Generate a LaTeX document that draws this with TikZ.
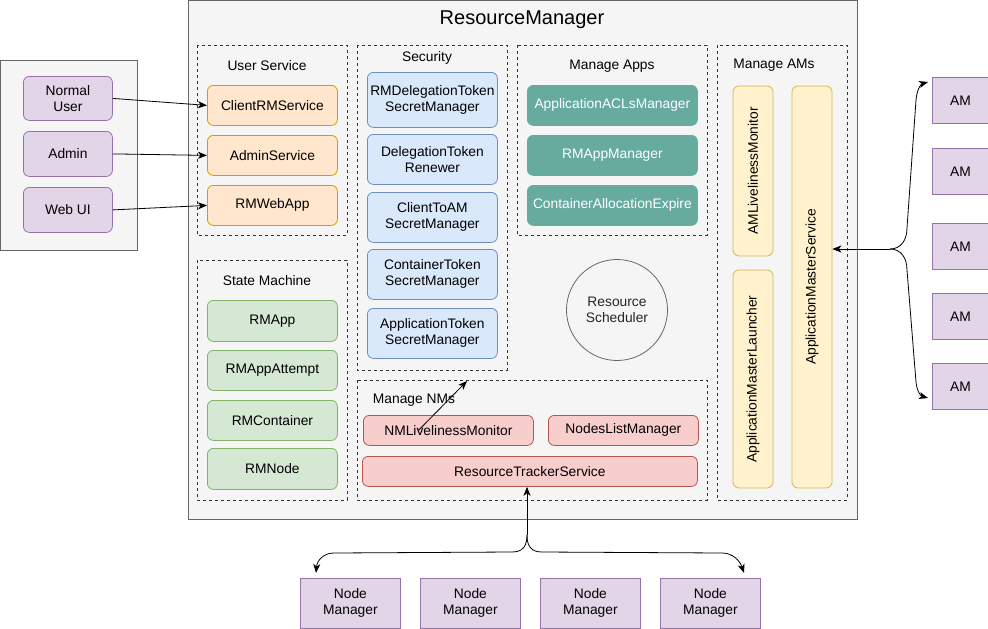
\documentclass[tikz,border=0pt]{standalone}
\usepackage{fontspec}
\setmainfont{Liberation Sans}
\usetikzlibrary{arrows.meta,calc}
\definecolor{grayfill}{HTML}{F5F5F5}
\definecolor{graystroke}{HTML}{666666}
\definecolor{purfill}{HTML}{E1D5E7}
\definecolor{purstroke}{HTML}{9673A6}
\definecolor{orfill}{HTML}{FFE6CC}
\definecolor{orstroke}{HTML}{D79B00}
\definecolor{blfill}{HTML}{DAE8FC}
\definecolor{blstroke}{HTML}{6C8EBF}
\definecolor{grfill}{HTML}{D5E8D4}
\definecolor{grstroke}{HTML}{82B366}
\definecolor{rdfill}{HTML}{F8CECC}
\definecolor{rdstroke}{HTML}{B85450}
\definecolor{yefill}{HTML}{FFF2CC}
\definecolor{yestroke}{HTML}{D6B656}
\definecolor{teal}{HTML}{67AB9F}
\definecolor{txt}{HTML}{000000}
\begin{document}
\begin{tikzpicture}[x=1pt,y=-1pt,
  every node/.style={font=\fontsize{13.8}{16}\selectfont, inner sep=0pt, align=center, text=txt},
  bx/.style={draw, rounded corners=6pt, line width=0.8pt, anchor=north west},
  purbox/.style={bx, fill=purfill, draw=purstroke},
  amsq/.style={draw=purstroke, fill=purfill, line width=0.8pt, anchor=north west, minimum width=56pt, minimum height=46pt},
  nmsq/.style={draw=purstroke, fill=purfill, line width=0.8pt, anchor=north west, minimum width=100pt, minimum height=50pt},
  orbox/.style={bx, fill=orfill, draw=orstroke, minimum width=130pt, minimum height=40pt},
  blbox/.style={bx, fill=blfill, draw=blstroke, minimum width=130pt},
  grbox/.style={bx, fill=grfill, draw=grstroke, minimum width=130pt, minimum height=40pt},
  tlbox/.style={bx, fill=teal, draw=teal, text=white, minimum width=170pt, minimum height=40pt},
  rdbox/.style={bx, fill=rdfill, draw=rdstroke, minimum height=30pt},
  yebox/.style={draw=yestroke, fill=yefill, rounded corners=6pt, line width=0.8pt, rotate=90, minimum height=40pt},
  grp/.style={draw=black!80, line width=0.6pt, dash pattern=on 3pt off 3pt},
  outer/.style={draw=graystroke, fill=grayfill, line width=0.9pt},
  arr/.style={draw=black, line width=0.8pt, -{Stealth[length=9pt,width=7pt,inset=2.5pt]}},
]
\useasboundingbox (0,0) rectangle (988,629);

% outer boxes
\draw[outer] (188,0.5) rectangle (857,519.5);
\draw[outer] (0.5,60) rectangle (137,250);
\node[font=\fontsize{20}{24}\selectfont] (title) at (522,20) {ResourceManager};

% group boxes
\draw[grp] (197,45) rectangle (347,235);
\draw[grp] (197,260) rectangle (347,500);
\draw[grp] (357,45) rectangle (507,370);
\draw[grp] (517,45) rectangle (707,235);
\draw[grp] (357,380) rectangle (707,500);
\draw[grp] (717,45) rectangle (847,500);

\node (lus) at (267,66) {User Service};
\node (lsm) at (267,281) {State Machine};
\node (lsec) at (427,58) {Security};
\node (lma) at (612,66) {Manage Apps};
\node (lmn) at (414,400) {Manage NMs};
\node (lam) at (774,65) {Manage AMs};

% users
\node[purbox, minimum width=89pt, minimum height=44pt] (nu) at (23,76) {Normal\\User};
\node[purbox, minimum width=89pt, minimum height=45pt] (adm) at (23,131) {Admin};
\node[purbox, minimum width=89pt, minimum height=45pt] (web) at (23,187) {Web UI};

% user service
\node[orbox] (crm) at (207,85) {ClientRMService};
\node[orbox] (ads) at (207,135) {AdminService};
\node[orbox] (rmw) at (207,185) {RMWebApp};

% state machine
\node[grbox, minimum height=41pt] (rmapp) at (207,300) {RMApp};
\node[grbox] (rmaa) at (207,350) {RMAppAttempt};
\node[grbox] (rmc) at (207,400) {RMContainer};
\node[grbox, minimum height=41pt] (rmn) at (207,448) {RMNode};

% security
\node[blbox, minimum height=55pt] (s1) at (367,72) {RMDelegationToken\\SecretManager};
\node[blbox, minimum height=50pt] (s2) at (367,134) {DelegationToken\\Renewer};
\node[blbox, minimum height=50pt] (s3) at (367,192) {ClientToAM\\SecretManager};
\node[blbox, minimum height=50pt] (s4) at (367,249) {ContainerToken\\SecretManager};
\node[blbox, minimum height=50pt] (s5) at (367,308) {ApplicationToken\\SecretManager};

% manage apps
\node[tlbox] (acl) at (527,85) {ApplicationACLsManager};
\node[tlbox] (rmam) at (527,135) {RMAppManager};
\node[tlbox] (cae) at (527,185) {ContainerAllocationExpire};

% scheduler
\node[circle, draw=graystroke, fill=grayfill, line width=0.8pt, minimum size=101pt, text=black!85] (rs) at (617,310) {Resource\\Scheduler};

% manage NMs
\node[rdbox, minimum width=170pt] (nmlm) at (363,415) {NMLivelinessMonitor};
\node[rdbox, minimum width=150pt] (nlm) at (548,415) {NodesListManager};
\node[rdbox, minimum width=335pt] (rts) at (362,456) {ResourceTrackerService};

% manage AMs
\node[yebox, minimum width=170pt] (amlm) at (753,171) {AMLivelinessMonitor};
\node[yebox, minimum width=218pt] (aml) at (753,379) {ApplicationMasterLauncher};
\node[yebox, minimum width=402pt] (ams) at (812,287) {ApplicationMasterService};

% AMs
\node[amsq] (am1) at (932,77) {AM};
\node[amsq] (am2) at (932,148) {AM};
\node[amsq] (am3) at (932,223) {AM};
\node[amsq] (am4) at (932,293) {AM};
\node[amsq] (am5) at (932,363) {AM};

% Node managers
\node[nmsq] (nm1) at (300,578) {Node\\Manager};
\node[nmsq] (nm2) at (420,578) {Node\\Manager};
\node[nmsq] (nm3) at (540,578) {Node\\Manager};
\node[nmsq] (nm4) at (660,578) {Node\\Manager};

% connectors users
\draw[arr] (nu.east) -- (crm.west);
\draw[arr] (adm.east) -- (ads.west);
\draw[arr] (web.east) -- (rmw.west);

% NM monitor arrow
\coordinate (nmtip) at (467,381);
\draw[arr] ($(nmlm.center)+(-30,0)$) -- (nmtip);

% bottom brace
\coordinate (split) at (527,535);
\coordinate (nmtipl) at (316,573);
\coordinate (nmtipr) at (744,573);
\draw[arr] (split) -- (rts.south -| split);
\draw[arr] (split) .. controls (527,546) and (523,552) .. (512,552) -- (334,553) .. controls (323,553) and (317,561) .. (nmtipl);
\draw[arr] (split) .. controls (527,546) and (531,552) .. (542,552) -- (722,553) .. controls (733,553) and (740,561) .. (nmtipr);

% right brace
\coordinate (bsplit) at (890,249);
\coordinate (amtipt) at (928,82);
\coordinate (amtipb) at (928,398);
\draw[arr] (bsplit) -- (ams.south |- bsplit);
\draw[arr] (bsplit) .. controls (901,249) and (907,240) .. (907,228) -- (916,100) .. controls (917,89) and (921,84) .. (amtipt);
\draw[arr] (bsplit) .. controls (901,249) and (907,258) .. (907,270) -- (916,382) .. controls (917,392) and (921,396) .. (amtipb);
\end{tikzpicture}
\end{document}
